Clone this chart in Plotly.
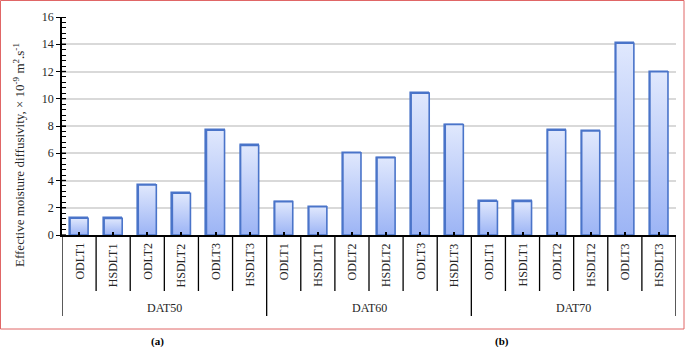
import plotly.graph_objects as go

groups = ["DAT50", "DAT60", "DAT70"]
treatments = ["ODLT1", "HSDLT1", "ODLT2", "HSDLT2", "ODLT3", "HSDLT3"]
dat50 = [1.23, 1.22, 3.68, 3.06, 7.69, 6.57]
dat60 = [2.45, 2.07, 6.04, 5.68, 10.41, 8.11]
dat70 = [2.48, 2.47, 7.69, 7.63, 14.07, 11.98]
y_ticks = [0, 2, 4, 6, 8, 10, 12, 14, 16]
panel_labels = ["(a)", "(b)"]

values = dat50 + dat60 + dat70
cats = treatments * len(groups)
n = len(values)
xc = [i + 0.5 for i in range(n)]
BW = 0.53

FONT = "Liberation Serif"
TXT = "#262626"
EDGE = "#4a74c9"
TOP = "#e0e8fd"
BOT = "#9cb4f5"

# plot-area geometry (px) for paper conversions
L, R, T, B = 62, 676, 17, 235
PW, PH = R - L, B - T
def py(p):
    return (B - p) / PH
def px(p):
    return (p - L) / PW

fig = go.Figure()

# gradient fills
for x, v in zip(xc, values):
    fig.add_trace(go.Scatter(
        x=[x - BW / 2, x + BW / 2, x + BW / 2, x - BW / 2, x - BW / 2],
        y=[0, 0, v, v, 0],
        mode="lines", fill="toself",
        fillgradient=dict(type="vertical", colorscale=[[0, BOT], [1, TOP]]),
        line=dict(color=EDGE, width=1.6),
        hoverinfo="skip", showlegend=False))

fig.add_trace(go.Bar(
    x=xc, y=values, width=BW,
    marker=dict(color="rgba(0,0,0,0)", line=dict(color=EDGE, width=1.6)),
    showlegend=False, hovertext=cats))

shapes = []
annotations = []

# major ticks crossing into plot
for t in y_ticks:
    shapes.append(dict(type="line", xref="paper", yref="y", x0=0, x1=4 / PW,
                       y0=t, y1=t, line=dict(color="black", width=1.3)))

# category separators
for i in range(n + 1):
    is_group = (i % len(treatments) == 0)
    shapes.append(dict(type="line", xref="x", yref="paper", x0=i, x1=i,
                       y0=0, y1=py(316) if is_group else py(291),
                       line=dict(color="black", width=1.3)))

# category labels
for x, c in zip(xc, cats):
    annotations.append(dict(x=x, y=py(242), xref="x", yref="paper", text=c,
                            textangle=-90, showarrow=False, xanchor="center",
                            yanchor="top", borderpad=0,
                            font=dict(family=FONT, size=12, color=TXT)))
# group labels
for g, name in enumerate(groups):
    annotations.append(dict(x=g * len(treatments) + len(treatments) / 2, y=py(308),
                            xref="x", yref="paper", text=name, showarrow=False,
                            xanchor="center", yanchor="middle",
                            font=dict(family=FONT, size=12, color=TXT)))

# y title
annotations.append(dict(x=px(19), y=py(155), xref="paper", yref="paper",
                        text="Effective moisture diffusivity, × 10<sup>-9</sup> m<sup>2</sup>.s<sup>-1</sup>",
                        textangle=-90, showarrow=False,
                        xanchor="center", yanchor="middle",
                        font=dict(family=FONT, size=13, color=TXT)))

# panel labels
for lab, pxx in zip(panel_labels, [157, 502]):
    annotations.append(dict(x=px(pxx), y=py(341), xref="paper", yref="paper",
                            text="<b>" + lab + "</b>", showarrow=False,
                            xanchor="center", yanchor="middle",
                            font=dict(family=FONT, size=11, color="black")))

# red frame
shapes.append(dict(type="rect", xref="paper", yref="paper",
                   x0=px(0.5), x1=px(684), y0=py(329), y1=py(0.5),
                   line=dict(color="#e06666", width=1)))

fig.update_layout(
    width=685, height=347,
    margin=dict(l=L, r=685 - R, t=T, b=347 - B),
    plot_bgcolor="white", paper_bgcolor="white",
    shapes=shapes, annotations=annotations,
    bargap=0,
    xaxis=dict(range=[0, n], showgrid=False, zeroline=False,
               showline=True, linecolor="black", linewidth=1.5,
               tickvals=xc, ticks="inside", ticklen=3, tickwidth=1.5,
               tickcolor="black", showticklabels=False),
    yaxis=dict(range=[0, 16], tickvals=y_ticks, showgrid=True,
               gridcolor="#d9d9d9", gridwidth=1.5, zeroline=False,
               showline=True, linecolor="black", linewidth=1.5,
               ticks="outside", ticklen=4, tickwidth=1.3, tickcolor="black",
               minor=dict(dtick=0.4, ticks="inside", ticklen=4,
                          tickcolor="black", tickwidth=1, showgrid=False),
               tickfont=dict(family=FONT, size=12, color=TXT)),
)

fig.write_html("out.html", config={"displayModeBar": False},
               post_script="document.body.style.margin='0';document.body.style.overflow='hidden';")
